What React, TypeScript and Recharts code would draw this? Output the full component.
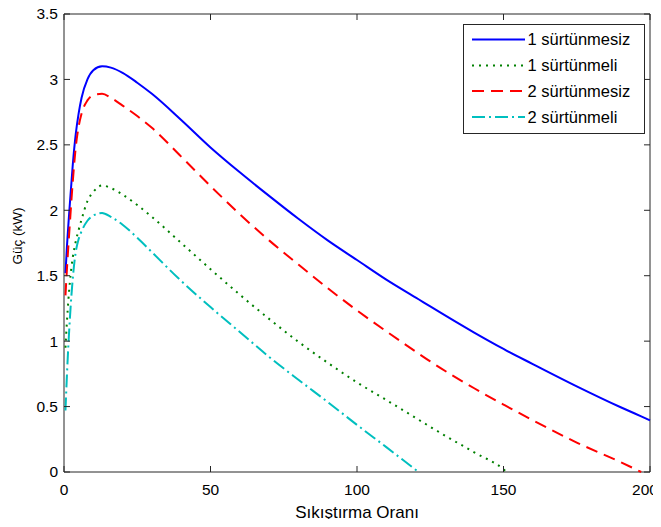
import { Label, Legend, Line, LineChart, ReferenceArea, XAxis, YAxis } from "recharts";

// compression ratio (shared x for all four curves)
const X_VALUES = [
  0.5, 1, 2, 3, 4, 5, 6, 8, 10, 13, 16, 20, 25, 30, 40, 50, 60, 70, 80, 90, 100,
  110, 121, 125, 140, 150, 151, 160, 175, 190, 197, 200,
];

// power, kW
const SURTUNMESIZ_1 = [
  1.52, 1.72, 2.05, 2.35, 2.58, 2.74, 2.86, 3.0, 3.07, 3.1, 3.09, 3.05, 2.975, 2.89,
  2.69, 2.48, 2.29, 2.11, 1.935, 1.77, 1.62, 1.47, 1.32, 1.265, 1.065, 0.94, 0.928,
  0.825, 0.655, 0.495, 0.425, 0.395,
];
const SURTUNMELI_1 = [
  0.95, 1.15, 1.45, 1.64, 1.76, 1.85, 1.93, 2.07, 2.14, 2.19, 2.17, 2.12, 2.04, 1.95,
  1.75, 1.55, 1.355, 1.17, 0.995, 0.835, 0.685, 0.55, 0.4, 0.345, 0.15, 0.02, 0,
  null, null, null, null, null,
];
const SURTUNMESIZ_2 = [
  1.35, 1.55, 1.9, 2.22, 2.48, 2.64, 2.74, 2.84, 2.88, 2.89, 2.86, 2.8, 2.72, 2.63,
  2.41, 2.185, 1.97, 1.77, 1.585, 1.405, 1.235, 1.075, 0.905, 0.845, 0.64, 0.515,
  0.503, 0.395, 0.225, 0.075, 0, null,
];
const SURTUNMELI_2 = [
  0.47, 0.74, 1.17, 1.48, 1.68, 1.78, 1.84, 1.92, 1.96, 1.98, 1.95, 1.89, 1.79, 1.68,
  1.46, 1.26, 1.07, 0.88, 0.705, 0.535, 0.36, 0.19, 0, null, null, null, null, null,
  null, null, null, null,
];

const X_TICKS = [0, 50, 100, 150, 200];
const Y_TICKS = [0, 0.5, 1, 1.5, 2, 2.5, 3, 3.5];

const SERIES = [
  { key: "s1", name: "1 sürtünmesiz", values: SURTUNMESIZ_1, color: "#0000ff", dash: undefined },
  { key: "s2", name: "1 sürtünmeli", values: SURTUNMELI_1, color: "#008000", dash: "2 5" },
  { key: "s3", name: "2 sürtünmesiz", values: SURTUNMESIZ_2, color: "#ff0000", dash: "12 7" },
  { key: "s4", name: "2 sürtünmeli", values: SURTUNMELI_2, color: "#00bfbf", dash: "13 4 2 4" },
];

const chartData = X_VALUES.map((x, i) => {
  const row: Record<string, number | null> = { x };
  SERIES.forEach((s) => {
    row[s.key] = s.values[i];
  });
  return row;
});

// chart covers the whole page (body margin cancelled below)
const WIDTH = 661;
const HEIGHT = 527;
const Y_AXIS_WIDTH = 64;
const X_AXIS_HEIGHT = 55;
const MARGIN = { top: 14, right: 11, bottom: 0, left: 0 };
const PLOT_LEFT = Y_AXIS_WIDTH;
const PLOT_RIGHT = WIDTH - MARGIN.right;
const PLOT_TOP = MARGIN.top;
const PLOT_BOTTOM = HEIGHT - X_AXIS_HEIGHT;
const TICK_LEN = 6;
const INK = "#262626";
const FONT = '"Liberation Sans", Arial, Helvetica, sans-serif';

function XTick({ x, payload }: any) {
  // keep the last label inside the page
  const tx = Math.min(x, WIDTH - 16);
  return (
    <g>
      <line x1={x} x2={x} y1={PLOT_BOTTOM} y2={PLOT_BOTTOM - TICK_LEN} stroke={INK} />
      <line x1={x} x2={x} y1={PLOT_TOP} y2={PLOT_TOP + TICK_LEN} stroke={INK} />
      <text x={tx} y={PLOT_BOTTOM + 23} textAnchor="middle" fontSize={15.5} fill="#000" fontFamily={FONT}>
        {payload.value}
      </text>
    </g>
  );
}

function YTick({ y, payload }: any) {
  return (
    <g>
      <line x1={PLOT_LEFT} x2={PLOT_LEFT + TICK_LEN} y1={y} y2={y} stroke={INK} />
      <line x1={PLOT_RIGHT - TICK_LEN} x2={PLOT_RIGHT} y1={y} y2={y} stroke={INK} />
      <text x={PLOT_LEFT - 6} y={y} dy="0.35em" textAnchor="end" fontSize={15.5} fill="#000" fontFamily={FONT}>
        {payload.value}
      </text>
    </g>
  );
}

function LegendBox() {
  const rows = [15.5, 41.5, 67, 93];
  return (
    <svg width={182} height={110} style={{ display: "block" }}>
      <rect x={0.5} y={0.5} width={181} height={109} fill="#fff" stroke={INK} />
      {SERIES.map((s, i) => (
        <g key={s.key}>
          <line
            x1={9}
            x2={62}
            y1={rows[i]}
            y2={rows[i]}
            stroke={s.color}
            strokeWidth={2}
            strokeDasharray={s.dash}
          />
          <text x={64.5} y={rows[i]} dy="0.35em" fontSize={16.5} fill="#000" fontFamily={FONT}>
            {s.name}
          </text>
        </g>
      ))}
    </svg>
  );
}

export default function App() {
  return (
    <div style={{ width: WIDTH, height: HEIGHT, margin: -8, background: "#fff" }}>
      <LineChart width={WIDTH} height={HEIGHT} data={chartData} margin={MARGIN}>
        <XAxis
          type="number"
          dataKey="x"
          domain={[0, 200]}
          ticks={X_TICKS}
          interval={0}
          height={X_AXIS_HEIGHT}
          axisLine={false}
          tickLine={false}
          tick={(props: any) => <XTick {...props} />}
        >
          <Label
            content={() => (
              <text
                x={(PLOT_LEFT + PLOT_RIGHT) / 2}
                y={518}
                textAnchor="middle"
                fontSize={17}
                fill="#000"
                fontFamily={FONT}
              >
                Sıkıştırma Oranı
              </text>
            )}
          />
        </XAxis>
        <YAxis
          type="number"
          domain={[0, 3.5]}
          ticks={Y_TICKS}
          interval={0}
          width={Y_AXIS_WIDTH}
          axisLine={false}
          tickLine={false}
          tick={(props: any) => <YTick {...props} />}
        >
          <Label
            content={() => (
              <text
                x={17}
                y={236}
                transform="rotate(-90 17 236)"
                dy="0.35em"
                textAnchor="middle"
                fontSize={13.5}
                fill="#000"
                fontFamily={FONT}
              >
                Güç (kW)
              </text>
            )}
          />
        </YAxis>
        <ReferenceArea x1={0} x2={200} y1={0} y2={3.5} fill="none" stroke={INK} strokeWidth={1} />
        {SERIES.map((s) => (
          <Line
            key={s.key}
            type="monotone"
            dataKey={s.key}
            name={s.name}
            stroke={s.color}
            strokeWidth={2}
            strokeDasharray={s.dash}
            dot={false}
            activeDot={false}
            isAnimationActive={false}
          />
        ))}
        <Legend
          layout="vertical"
          align="center"
          verticalAlign="middle"
          wrapperStyle={{ top: 24, left: 463, width: 182, height: 110 }}
          content={() => <LegendBox />}
        />
      </LineChart>
    </div>
  );
}
